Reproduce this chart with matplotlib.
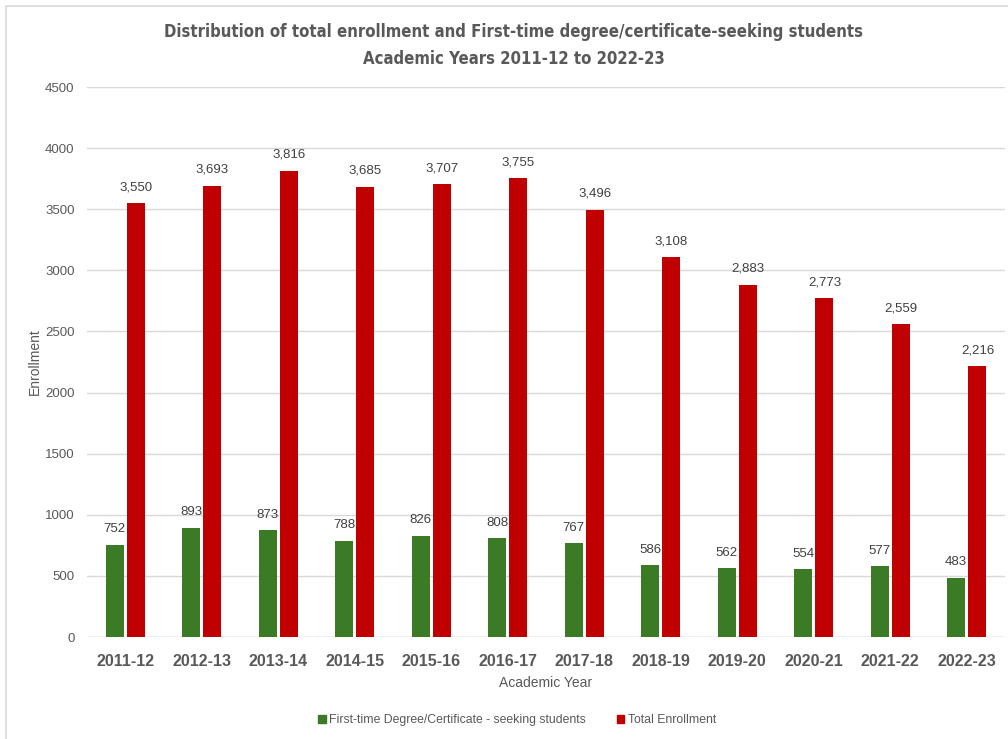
import matplotlib.pyplot as plt
from matplotlib.patches import Rectangle
import numpy as np

years = ["2011-12", "2012-13", "2013-14", "2014-15", "2015-16", "2016-17",
         "2017-18", "2018-19", "2019-20", "2020-21", "2021-22", "2022-23"]
first_time = [752, 893, 873, 788, 826, 808, 767, 586, 562, 554, 577, 483]
total = [3550, 3693, 3816, 3685, 3707, 3755, 3496, 3108, 2883, 2773, 2559, 2216]

green = "#3b7b25"
red = "#c00000"
gray = "#595959"

plt.rcParams["font.family"] = ["Liberation Sans", "DejaVu Sans"]

fig = plt.figure(figsize=(10.08, 7.39), dpi=100)
ax = fig.add_axes([87 / 1008, 1 - 637 / 739, 918 / 1008, 550 / 739])

# chart frame (runs off the right and bottom edges)
fig.patches.append(Rectangle((6 / 1008, -0.01), 1.0, 1 - 6 / 739 + 0.01, transform=fig.transFigure,
                             fill=False, edgecolor="#d9d9d9", linewidth=1.2))

x = np.arange(len(years))
w = 0.235
off = 0.14
b1 = ax.bar(x - off, first_time, w, color=green, zorder=3)
b2 = ax.bar(x + off, total, w, color=red, zorder=3)

for rect, v in zip(b1, first_time):
    ax.annotate(f"{v:,}", (rect.get_x() + rect.get_width() / 2, v), xytext=(0, 7),
                textcoords="offset points", ha="center", va="bottom", fontsize=9.5, color="#404040")
for rect, v in zip(b2, total):
    ax.annotate(f"{v:,}", (rect.get_x() + rect.get_width() / 2, v), xytext=(0, 7),
                textcoords="offset points", ha="center", va="bottom", fontsize=9.5, color="#404040")

ax.set_xlim(-0.5, len(years) - 0.5)
ax.set_ylim(0, 4500)
ax.set_yticks(np.arange(0, 4501, 500))
ax.set_xticks(x)
ax.set_xticklabels(years, fontsize=11.5, fontweight="bold", color=gray)
ax.tick_params(axis="y", labelsize=9.5, colors=gray, length=0, pad=9)
ax.tick_params(axis="x", length=0, pad=12)
ax.grid(axis="y", color="#d9d9d9", linewidth=1, zorder=0)
for s in ax.spines.values():
    s.set_visible(False)
ax.axhline(0, color="#d9d9d9", linewidth=1, zorder=2)

ax.set_ylabel("Enrollment", fontsize=10, color=gray, labelpad=2)
ax.set_xlabel("Academic Year", fontsize=10, color=gray, labelpad=5)

fig.suptitle("Distribution of total enrollment and First-time degree/certificate-seeking students\n"
             "Academic Years 2011-12 to 2022-23",
             x=514 / 1008, y=1 - 23 / 739, va="top", fontsize=12, fontweight="bold", color=gray,
             family=["DejaVu Sans"], fontstretch="condensed", linespacing=1.65)

handles = [Rectangle((0, 0), 1, 1, color=green), Rectangle((0, 0), 1, 1, color=red)]
fig.legend(handles, ["First-time Degree/Certificate - seeking students", "Total Enrollment"],
           loc="center", bbox_to_anchor=(517 / 1008, 1 - 720 / 739), ncol=2, frameon=False,
           fontsize=8.8, handlelength=0.65, handleheight=0.65, handletextpad=0.3, columnspacing=2.5,
           labelcolor=gray)

fig.savefig("out.png", dpi=100)
